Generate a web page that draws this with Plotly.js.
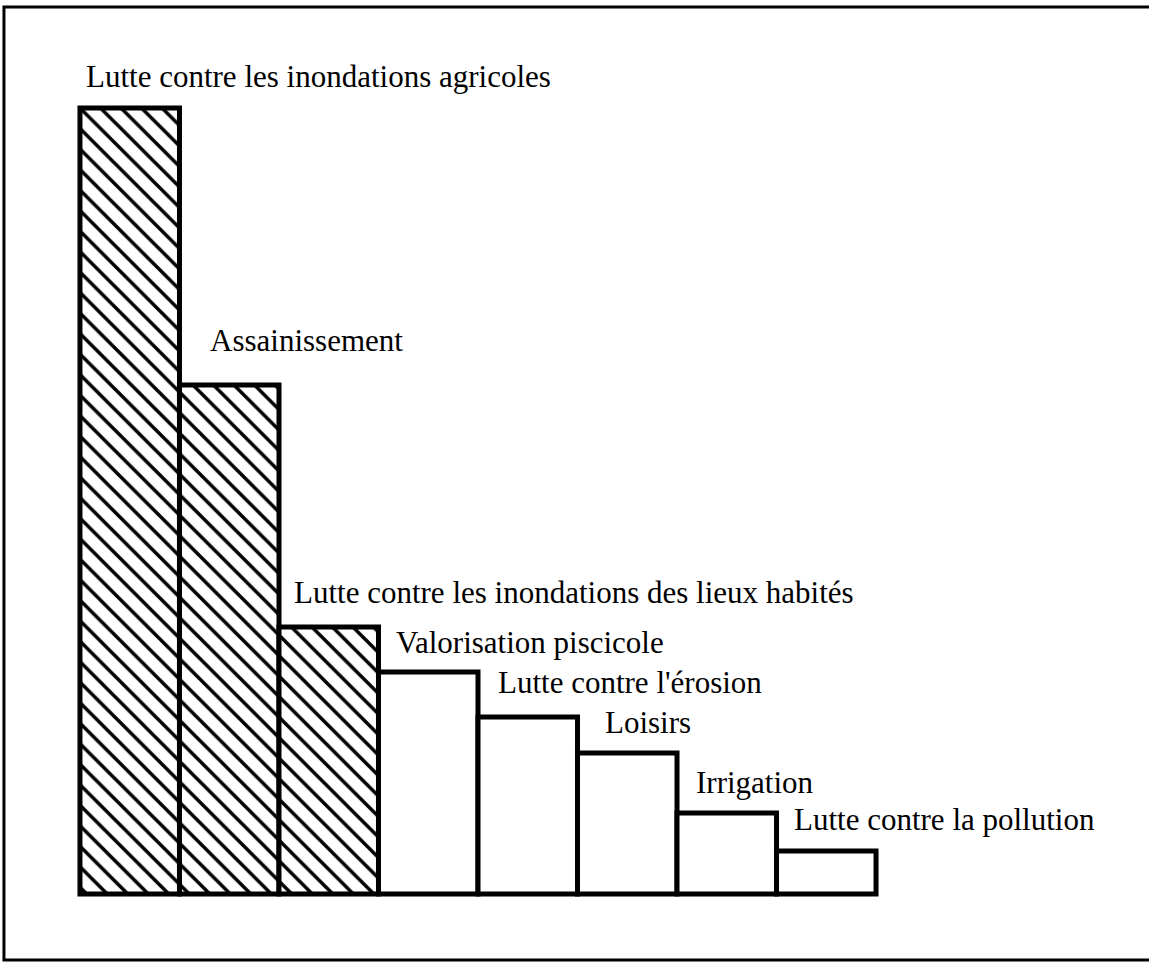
<!DOCTYPE html>
<html>
<head>
<meta charset="utf-8">
<script src="https://cdn.plot.ly/plotly-3.0.1.min.js"></script>
<style>
html,body{margin:0;padding:0;background:#fff;}
#chart{width:1149px;height:963px;}
</style>
</head>
<body>
<div id="chart"></div>
<script>
// Data (arbitrary units, relative heights)
const categories = [
  "Lutte contre les inondations agricoles",
  "Assainissement",
  "Lutte contre les inondations des lieux habités",
  "Valorisation piscicole",
  "Lutte contre l'érosion",
  "Loisirs",
  "Irrigation",
  "Lutte contre la pollution"
];
const values = [786, 509, 267, 222, 177, 141, 81, 43];
const hatched = [true, true, true, false, false, false, false, false];

// Label placement (pixels, relative to bar top-left corner)
const labelDx = [5, 30, 14, 17, 19, 26, 18, 16];
const labelDy = [19, 32, 22, 17, 22, 18, 18, 19];

const xIdx = categories.map((c, i) => i);

const trace = {
  type: 'bar',
  x: xIdx,
  y: values,
  width: 1,
  hoverinfo: 'skip',
  marker: {
    color: 'white',
    line: {color: 'black', width: 5},
    pattern: {
      shape: hatched.map(h => h ? '\\' : ''),
      fgcolor: 'black',
      bgcolor: 'white',
      fgopacity: 1,
      size: 14.5,
      solidity: 0.24,
      fillmode: 'replace'
    }
  }
};

const FONT = 'Liberation Serif';

const annotations = categories.map((c, i) => ({
  xref: 'x', yref: 'y',
  x: i - 0.5, y: values[i],
  xanchor: 'left', yanchor: 'bottom',
  xshift: labelDx[i] - 1, yshift: labelDy[i] - 7,
  text: c,
  showarrow: false,
  font: {family: FONT, size: 31, color: 'black'}
}));

// pixel geometry: 1 data unit in y = 1 px; bar width = 99.5 px
const xPad = 0.06, yPad = 6;
const barPx = 99.5;
const mL = 80 - xPad * barPx;
const plotW = (8 + 2 * xPad) * barPx;
const baseY = 894;
const mB = 963 - baseY - yPad;
const plotH = 786 + 6 + yPad;
const mT = 963 - mB - plotH;
const px2x = px => (px - mL) / plotW;
const py2y = py => (963 - mB - py) / plotH;

const layout = {
  width: 1149, height: 963,
  margin: {l: mL, r: 1149 - mL - plotW, t: mT, b: mB, pad: 0},
  paper_bgcolor: 'white', plot_bgcolor: 'white',
  showlegend: false,
  bargap: 0,
  font: {family: FONT},
  xaxis: {range: [-0.5 - xPad, 7.5 + xPad], showgrid: false, zeroline: false, showline: false, showticklabels: false, ticks: '', fixedrange: true},
  yaxis: {range: [-yPad, 792], showgrid: false, zeroline: false, showline: false, showticklabels: false, ticks: '', fixedrange: true},
  annotations: annotations,
  shapes: [{
    type: 'rect', xref: 'paper', yref: 'paper',
    x0: px2x(4), x1: px2x(1400), y0: py2y(960), y1: py2y(7),
    line: {color: 'black', width: 3}, fillcolor: 'rgba(0,0,0,0)', layer: 'below'
  }]
};

Plotly.newPlot('chart', [trace], layout, {displayModeBar: false, staticPlot: true});
</script>
</body>
</html>
